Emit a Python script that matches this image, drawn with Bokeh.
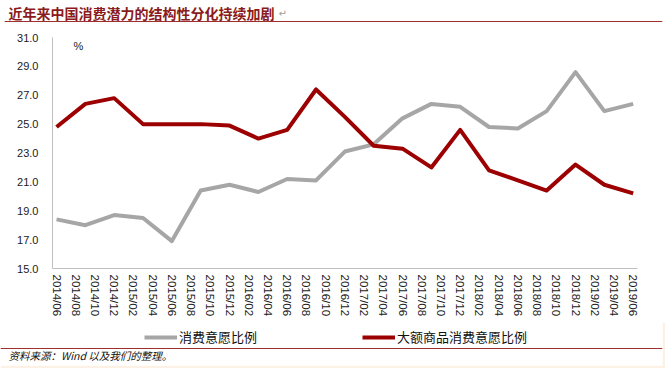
from bokeh.plotting import figure
from bokeh.models import (Range1d, FixedTicker, Legend, LegendItem, Label, Span,
                          PrintfTickFormatter, ColumnDataSource)
from bokeh.layouts import column
from bokeh.embed import file_html
from bokeh.resources import INLINE

# ---------------- data ----------------
title_text = "近年来中国消费潜力的结构性分化持续加剧"
source_text = "资料来源：Wind 以及我们的整理。"
unit_text = "%"

dates = ["2014/06", "2014/09", "2014/12", "2015/03", "2015/06", "2015/09", "2015/12",
         "2016/03", "2016/06", "2016/09", "2016/12", "2017/03", "2017/06", "2017/09",
         "2017/12", "2018/03", "2018/06", "2018/09", "2018/12", "2019/03", "2019/06"]
series_names = ["消费意愿比例", "大额商品消费意愿比例"]
consume_ratio = [18.4, 18.0, 18.7, 18.5, 16.9, 20.4, 20.8, 20.3, 21.2, 21.1, 23.1,
                 23.6, 25.4, 26.4, 26.2, 24.8, 24.7, 25.9, 28.6, 25.9, 26.4]
big_ticket_ratio = [24.8, 26.4, 26.8, 25.0, 25.0, 25.0, 24.9, 24.0, 24.6, 27.4, 25.5,
                    23.5, 23.3, 22.0, 24.6, 21.8, 21.1, 20.4, 22.2, 20.8, 20.2]
x_tick_labels = ["2014/06", "2014/08", "2014/10", "2014/12",
                 "2015/02", "2015/04", "2015/06", "2015/08", "2015/10", "2015/12",
                 "2016/02", "2016/04", "2016/06", "2016/08", "2016/10", "2016/12",
                 "2017/02", "2017/04", "2017/06", "2017/08", "2017/10", "2017/12",
                 "2018/02", "2018/04", "2018/06", "2018/08", "2018/10", "2018/12",
                 "2019/02", "2019/04", "2019/06"]
y_ticks = [15.0, 17.0, 19.0, 21.0, 23.0, 25.0, 27.0, 29.0, 31.0]


def month_index(s):
    y, m = s.split("/")
    return (int(y) - 2014) * 12 + int(m) - 6


src = ColumnDataSource(dict(
    x=[month_index(d) for d in dates],
    consume=consume_ratio,
    big=big_ticket_ratio,
))
tick_pos = [month_index(t) for t in x_tick_labels]

W = 665
CJK = "Noto Sans CJK SC"
RULE = "#9E2F2F"
CREAM = "#FDF1E6"
GRAY = "#A6A6A6"
RED = "#9C0000"
NAN = float("nan")

# ---------------- title strip (screen y 0..26) ----------------
pt = figure(width=W, height=26, x_range=Range1d(4, 662), y_range=Range1d(26, 0),
            output_backend="svg", toolbar_location=None, frame_align=False,
            min_border_left=4, min_border_right=3, min_border_top=0, min_border_bottom=0,
            x_axis_location=None, y_axis_location=None)
pt.outline_line_color = None
pt.grid.visible = False
pt.add_layout(Label(x=8, y=12, text=title_text,
                    text_font=CJK, text_font_style="bold", text_font_size="14px",
                    text_color="#8B1A1A", text_baseline="middle"))
pt.add_layout(Label(x=278, y=13, text="↵", text_font="DejaVu Sans", text_font_size="10px",
                    text_color="#A0A0A0", text_baseline="middle"))
pt.add_layout(Span(location=21, dimension="width", line_color=RULE, line_width=1))

# ---------------- main chart (screen y 26..322) ----------------
p = figure(width=W, height=296, x_range=Range1d(-0.42, 60.45), y_range=Range1d(15, 31),
           output_backend="svg", toolbar_location=None,
           min_border_left=52, min_border_right=28, min_border_top=11, min_border_bottom=54)
p.outline_line_color = None
p.grid.visible = False

p.line("x", "consume", source=src, line_color=GRAY, line_width=4, line_join="round")
p.line("x", "big", source=src, line_color=RED, line_width=4, line_join="round")

p.yaxis.ticker = FixedTicker(ticks=y_ticks)
p.yaxis.formatter = PrintfTickFormatter(format="%.1f")
p.xaxis.ticker = FixedTicker(ticks=tick_pos)
p.xaxis.major_label_overrides = {pos: lab for pos, lab in zip(tick_pos, x_tick_labels)}
p.xaxis.major_label_orientation = "vertical"

for ax in (p.xaxis[0], p.yaxis[0]):
    ax.axis_line_color = "#BFBFBF"
    ax.axis_line_width = 1
    ax.major_tick_line_color = None
    ax.minor_tick_line_color = None
    ax.major_tick_out = 0
    ax.major_tick_in = 0
    ax.major_label_text_font = "Liberation Sans"
    ax.major_label_text_color = "#1A1A1A"
p.yaxis.major_label_text_font_size = "11px"
p.yaxis.major_label_standoff = 14
p.xaxis.major_label_text_font_size = "11.5px"
p.xaxis.major_label_standoff = 6

p.add_layout(Label(x=26, y=223, x_units="screen", y_units="screen", text=unit_text,
                   text_font="Liberation Sans", text_font_size="11px",
                   text_color="#1A1A1A", text_baseline="middle", text_align="center"))

# ---------------- legend + source strip (screen y 322..368) ----------------
pb = figure(width=W, height=46, x_range=Range1d(0, 662), y_range=Range1d(43, 0),
            output_backend="svg", toolbar_location=None, frame_align=False,
            min_border_left=0, min_border_right=3, min_border_top=0, min_border_bottom=3,
            x_axis_location=None, y_axis_location=None)
pb.outline_line_color = None
pb.grid.visible = False
pb.border_fill_color = CREAM
pb.background_fill_color = "white"

# legend proxies (a single NaN point draws nothing), styled like the two series
k1 = pb.line(x=[NAN], y=[NAN], line_color=GRAY, line_width=4)
k2 = pb.line(x=[NAN], y=[NAN], line_color=RED, line_width=4)
legend = Legend(items=[LegendItem(label=series_names[0], renderers=[k1]),
                       LegendItem(label=series_names[1], renderers=[k2])],
                orientation="horizontal", location=(144, 19), spacing=105,
                glyph_width=33, glyph_height=16, label_height=16, label_standoff=2,
                padding=0, margin=0,
                border_line_color=None, background_fill_alpha=0,
                label_text_font=CJK, label_text_font_size="13px",
                label_text_color="#111111")
pb.add_layout(legend)

pb.add_layout(Span(location=26, dimension="width", line_color=RULE, line_width=1))
pb.add_layout(Label(x=8, y=33, text=source_text, text_font=CJK, text_font_style="italic",
                    text_font_size="10.5px", text_color="#111111", text_baseline="middle"))

layout = column(pt, p, pb, spacing=0)
open("out.html", "w").write(file_html(layout, INLINE))
